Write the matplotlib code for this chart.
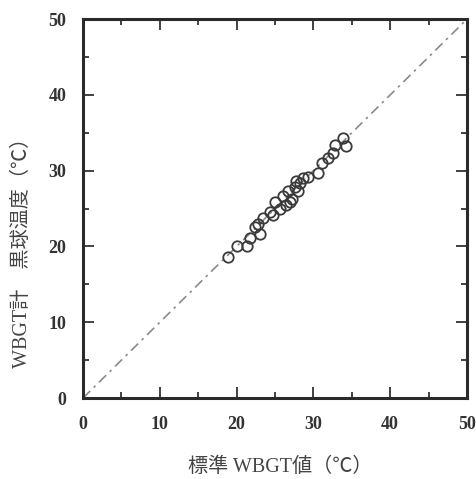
import numpy as np
import matplotlib
matplotlib.use("Agg")
import matplotlib.pyplot as plt
from matplotlib.ticker import MultipleLocator

# standard WBGT vs. WBGT meter (globe temperature), deg C
std_wbgt = [18.9, 20.1, 21.3, 21.7, 22.4, 23.0, 23.5, 24.3, 25.0, 25.6,
            26.1, 26.7, 26.9, 27.6, 28.0, 28.3, 28.7, 29.3, 30.6, 31.1,
            31.9, 32.6, 32.8, 33.9, 34.3, 24.8, 26.4, 27.2, 27.8, 22.8]
meter_wbgt = [18.6, 20.1, 20.0, 21.1, 22.6, 21.7, 23.7, 24.6, 25.9, 25.0,
              26.6, 27.3, 25.9, 27.9, 27.3, 28.4, 29.0, 29.2, 29.7, 31.0,
              31.7, 32.3, 33.4, 34.3, 33.2, 24.1, 25.5, 26.3, 28.6, 23.0]
ticks = [0, 10, 20, 30, 40, 50]

serif_jp = ['Liberation Serif', 'Noto Sans CJK JP', 'DejaVu Sans']

fig = plt.figure(figsize=(4.77, 4.79), dpi=100)
ax = fig.add_axes([0.174, 0.169, 0.805, 0.791])

ax.plot([0, 50], [0, 50], color='#8a8a8a', lw=1.2, linestyle=(0, (6, 3, 1.5, 3)))
ax.plot(std_wbgt, meter_wbgt, linestyle='none', marker='o', ms=7.5,
        mfc='none', mec='#3a3a3a', mew=1.3)

ax.set_xlim(0, 50)
ax.set_ylim(0, 50)
ax.set_xticks(ticks)
ax.set_yticks(ticks)
ax.xaxis.set_minor_locator(MultipleLocator(5))
ax.yaxis.set_minor_locator(MultipleLocator(5))
ax.tick_params(which='both', direction='in', top=True, right=True,
               color='#333333', width=1.3)
ax.tick_params(which='major', length=8)
ax.tick_params(axis='x', which='major', pad=13)
ax.tick_params(axis='y', which='major', pad=12)
ax.tick_params(which='minor', length=4)
for lab in ax.get_xticklabels() + ax.get_yticklabels():
    lab.set_family('Liberation Serif')
    lab.set_fontweight('bold')
    lab.set_fontsize(13)
    lab.set_color('#333333')
for spine in ax.spines.values():
    spine.set_linewidth(2.2)
    spine.set_edgecolor('#2a2a2a')

fig.text(0.588, 0.025, '標準 WBGT値（℃）', family=serif_jp, fontsize=14.5,
         color='#444444', ha='center', va='center')
fig.text(0.046, 0.483, 'WBGT計　黒球温度（℃）', family=serif_jp, fontsize=14.5,
         color='#444444', ha='center', va='center', rotation=90)

plt.savefig('out.png', dpi=100)
